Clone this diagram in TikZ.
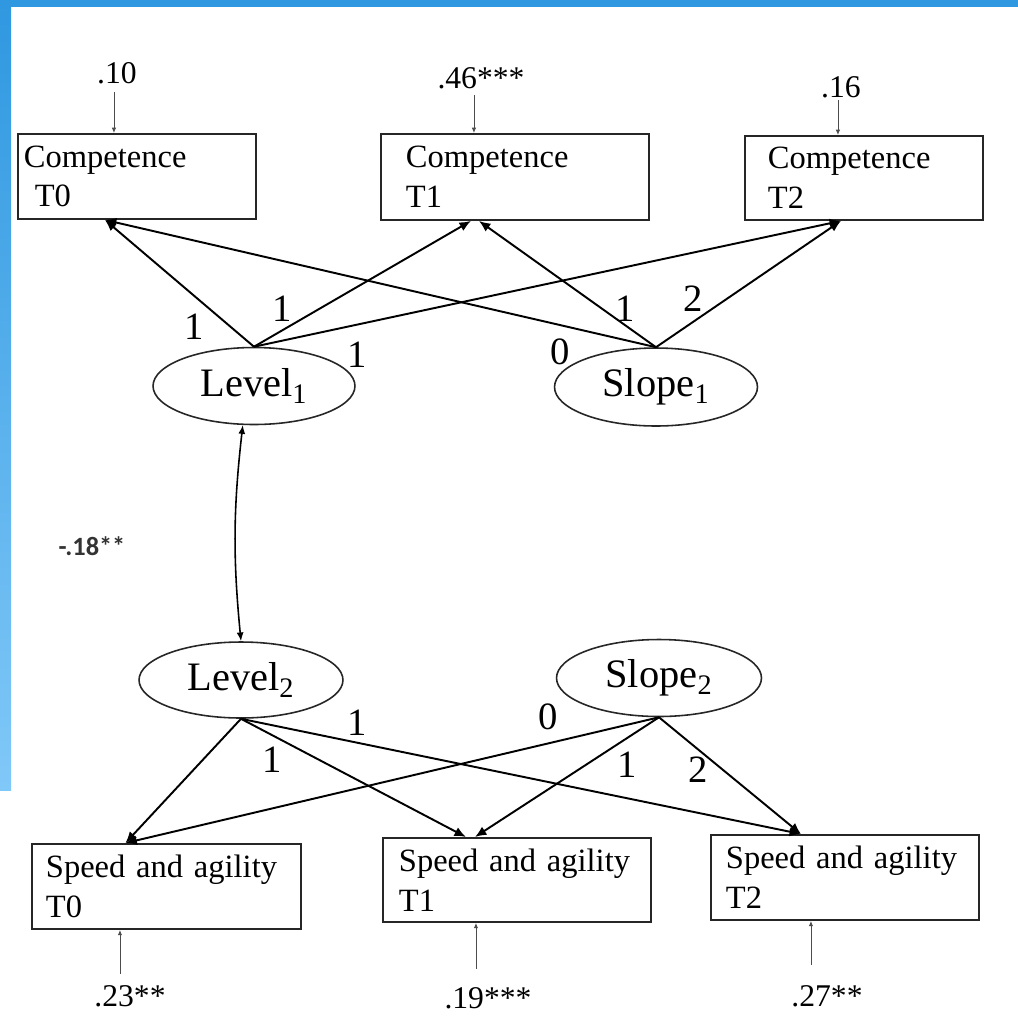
\documentclass[tikz,border=0pt]{standalone}
\usepackage{xcolor}
\usepackage{fontspec}
\setmainfont{Liberation Serif}
\newfontfamily\calfont{Carlito}
\usetikzlibrary{shapes.geometric,arrows.meta}
\definecolor{framedark}{HTML}{2F98E0}
\definecolor{framelight}{HTML}{80C8F8}
\tikzset{
  obsbox/.style={draw=black!85, line width=1.1pt, rectangle, anchor=north west, align=left, inner ysep=0pt, font=\fontsize{18.5}{22.5}\selectfont},
  latent/.style={draw=black!85, line width=0.9pt, ellipse, inner sep=0pt, font=\fontsize{23}{26}\selectfont},
  load/.style={line width=1.1pt, -{Latex[length=6.5pt,width=5.5pt]}},
  corr/.style={line width=0.9pt, {Latex[length=5pt,width=4pt]}-{Latex[length=5pt,width=4pt]}},
  resid/.style={line width=0.5pt, draw=black!70, -{Latex[length=3pt,width=2.5pt]}},
  wt/.style={font=\fontsize{22}{24}\selectfont, inner sep=0pt},
  rlabel/.style={anchor=base, inner sep=0pt, font=\fontsize{18}{20}\selectfont}
}
\begin{document}
\begin{tikzpicture}[x=0.02cm, y=-0.02cm]
\fill[white] (0,0) rectangle (1018,1015);
\useasboundingbox (0,0) rectangle (1018,1015);
\fill[framedark] (0,0) rectangle (1018,7);
\shade[top color=framedark, bottom color=framelight] (0,0) rectangle (11,790);

\node[obsbox, text width=4.52cm, inner xsep=0.12cm, minimum height=1.70cm] (c0) at (17,133) {Competence\\~T0};
\node[obsbox, text width=4.36cm, inner xsep=0.50cm, minimum height=1.72cm] (c1) at (380,133) {Competence\\T1};
\node[obsbox, text width=3.84cm, inner xsep=0.46cm, minimum height=1.68cm] (c2) at (744,135) {Competence\\T2};
\node[obsbox, text width=4.82cm, inner xsep=0.28cm, minimum height=1.70cm] (s0) at (31,843) {Speed and agility\\T0};
\node[obsbox, text width=4.72cm, inner xsep=0.32cm, minimum height=1.68cm] (s1) at (382,837) {Speed and agility\\T1};
\node[obsbox, text width=4.76cm, inner xsep=0.30cm, minimum height=1.70cm] (s2) at (710,834) {Speed and agility\\T2};

\node[latent, minimum width=4.04cm, minimum height=1.54cm] (l1) at (254,386) {Level\textsubscript{1}};
\node[latent, minimum width=4.06cm, minimum height=1.56cm] (sl1) at (656,387) {Slope\textsubscript{1}};
\node[latent, minimum width=4.08cm, minimum height=1.52cm] (l2) at (241,680) {Level\textsubscript{2}};
\node[latent, minimum width=4.10cm, minimum height=1.54cm] (sl2) at (659,678) {Slope\textsubscript{2}};

\coordinate (c0in) at ([xshift=-0.64cm]c0.south);
\coordinate (c1inl) at ([xshift=-0.88cm]c1.south);
\coordinate (c1inr) at ([xshift=-0.72cm]c1.south);
\coordinate (c2in) at ([xshift=-0.46cm]c2.south);
\coordinate (s0in) at ([xshift=-0.82cm]s0.north);
\coordinate (s1inl) at ([xshift=-1.02cm]s1.north);
\coordinate (s1inr) at ([xshift=-0.84cm]s1.north);
\coordinate (s2in) at ([xshift=-0.88cm]s2.north);

\draw[load] (l1.north) -- (c0in);
\draw[load] (l1.north) -- (c1inl);
\draw[load] (l1.north) -- (c2in);
\draw[load] (sl1.north) -- (c0in);
\draw[load] (sl1.north) -- (c1inr);
\draw[load] (sl1.north) -- (c2in);
\draw[load] (l2.south) -- (s0in);
\draw[load] (l2.south) -- (s1inl);
\draw[load] (l2.south) -- (s2in);
\draw[load] (sl2.south) -- (s0in);
\draw[load] (sl2.south) -- (s1inr);
\draw[load] (sl2.south) -- (s2in);

\node[wt] (w1a) at (194,327) {1};
\node[wt] (w1b) at (282,309) {1};
\node[wt] (w1c) at (357,355) {1};
\node[wt] (w1d) at (560,352) {0};
\node[wt] (w1e) at (625,309) {1};
\node[wt] (w1f) at (693,299) {2};
\node[wt] (w2a) at (357,723) {1};
\node[wt] (w2b) at (272,760) {1};
\node[wt] (w2c) at (548,717) {0};
\node[wt] (w2d) at (627,765) {1};
\node[wt] (w2e) at (698,770) {2};

\draw[corr] (l1.254) to[bend right=6] (l2.north);
\node[font={\calfont\bfseries\fontsize{15}{18}\selectfont}, text=black!80] (r12) at (92,546) {-.18**};

\node[rlabel] (e0) at (117,83) {.10};
\node[rlabel] (e1) at (481,88) {.46***};
\node[rlabel] (e2) at (841,97) {.16};
\node[rlabel] (f0) at (130,1006) {.23**};
\node[rlabel] (f1) at (488,1008) {.19***};
\node[rlabel] (f2) at (827,1006) {.27**};

\coordinate (c0r) at ([xshift=-0.46cm]c0.north);
\coordinate (c1r) at ([xshift=-0.82cm]c1.north);
\coordinate (c2r) at ([xshift=-0.52cm]c2.north);
\coordinate (s0r) at ([xshift=-0.93cm]s0.south);
\coordinate (s1r) at ([xshift=-0.82cm]s1.south);
\coordinate (s2r) at ([xshift=-0.68cm]s2.south);
\coordinate (c0rs) at ([yshift=0.82cm]c0r);
\coordinate (c1rs) at ([yshift=0.76cm]c1r);
\coordinate (c2rs) at ([yshift=0.70cm]c2r);
\coordinate (s0rs) at ([yshift=-0.88cm]s0r);
\coordinate (s1rs) at ([yshift=-0.92cm]s1r);
\coordinate (s2rs) at ([yshift=-0.88cm]s2r);

\draw[resid] (c0rs) -- (c0r);
\draw[resid] (c1rs) -- (c1r);
\draw[resid] (c2rs) -- (c2r);
\draw[resid] (s0rs) -- (s0r);
\draw[resid] (s1rs) -- (s1r);
\draw[resid] (s2rs) -- (s2r);
\end{tikzpicture}
\end{document}
